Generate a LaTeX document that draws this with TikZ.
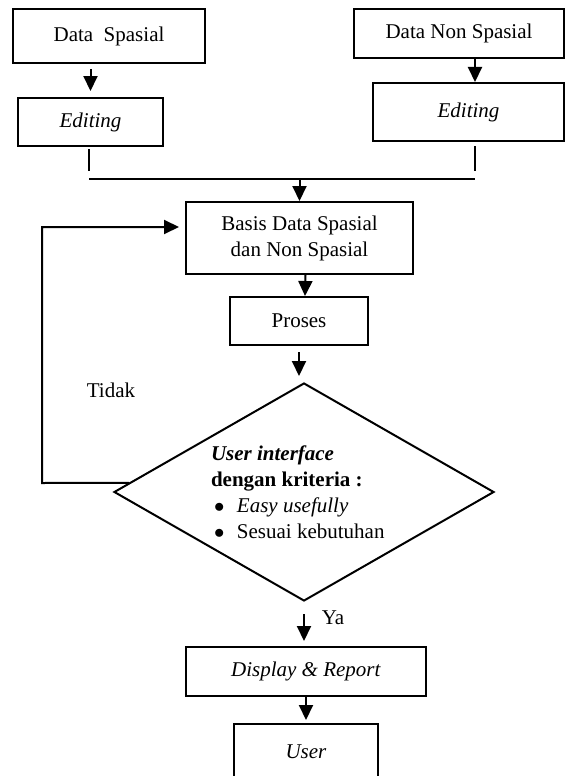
\documentclass[tikz,border=0pt]{standalone}
\usepackage{fontspec}
\setmainfont{Liberation Serif}
\usetikzlibrary{shapes.geometric,arrows.meta,positioning}

\begin{document}
\begin{tikzpicture}[x=1pt,y=-1pt,line width=2pt,
  every node/.style={font=\fontsize{21}{26}\selectfont},
  kotak/.style={draw,rectangle,inner sep=0pt,align=center},
  panah/.style={-{Triangle[length=15pt,width=14pt]}}]

\useasboundingbox (0,0) rectangle (566,776);
\clip (0,0) rectangle (566,776);

% sumber data
\node[kotak,minimum width=192pt,minimum height=54pt] (spasial) at (109,36) {Data \ Spasial};
\node[kotak,minimum width=210pt,minimum height=49pt] (nonspasial) at (459,33.5) {Data Non Spasial};
\node[kotak,minimum width=145pt,minimum height=48pt] (editL) at (90.5,122) {\textit{Editing}};
\node[kotak,minimum width=191pt,minimum height=58pt] (editR) at (468.5,112) {\textit{Editing}};

% basis data dan proses
\node[kotak,minimum width=227pt,minimum height=72pt] (basis) at (299.5,238) {Basis Data Spasial\\dan Non Spasial};
\node[kotak,minimum width=138pt,minimum height=48pt] (proses) at (299,321) {Proses};

\node[draw,diamond,shape aspect=1.74,minimum width=380pt,minimum height=218pt,
      inner sep=0pt,text width=186pt,align=flush left] (uji) at (304,492)
  {\textbf{\textit{User interface}}\\
   \textbf{dengan kriteria :}\\
   \hspace*{3pt}$\bullet$\hspace{0.6em}\textit{Easy usefully}\\
   \hspace*{3pt}$\bullet$\hspace{0.6em}Sesuai kebutuhan};

\node[kotak,minimum width=240pt,minimum height=49pt] (display) at (306,671.5) {\textit{Display \& Report}};
\node[kotak,minimum width=144pt,minimum height=56pt] (user) at (306,752) {\textit{User}};

\node (tidak) at (111,390) {Tidak};
\node (ya) at (333,618) {Ya};

% titik bantu
\coordinate (nsturun) at (475,58);
\coordinate (kiri) at (89,179);
\coordinate (kanan) at (475,179);
\coordinate (balik) at (42,483);

% panah
\draw[panah,shorten <=5pt,shorten >=6pt] (spasial.south -| editL.north) -- (editL.north);
\draw[panah] (nsturun) -- (nsturun |- editR.north);
\draw (editL.south -| kiri) ++(0,2) -- ++(0,22);
\draw (editR.south -| kanan) ++(0,4) -- ++(0,25);
\draw (kiri) -- (kanan);
\draw[panah] (kiri -| basis.north) -- (basis.north);
\draw[panah] ([xshift=6pt]basis.south) -- ([xshift=6pt]proses.north);
\draw[panah,shorten <=6pt,shorten >=6pt] (proses.south) -- (proses.south |- uji.north);
\draw[panah,shorten >=6pt] (uji.177) -- (balik) |- ([yshift=11pt]basis.west);
\draw[panah,shorten <=12pt,shorten >=5pt] (uji.south) -- (uji.south |- display.north);
\draw[panah,shorten >=3pt] (display) -- (user);

\end{tikzpicture}
\end{document}
